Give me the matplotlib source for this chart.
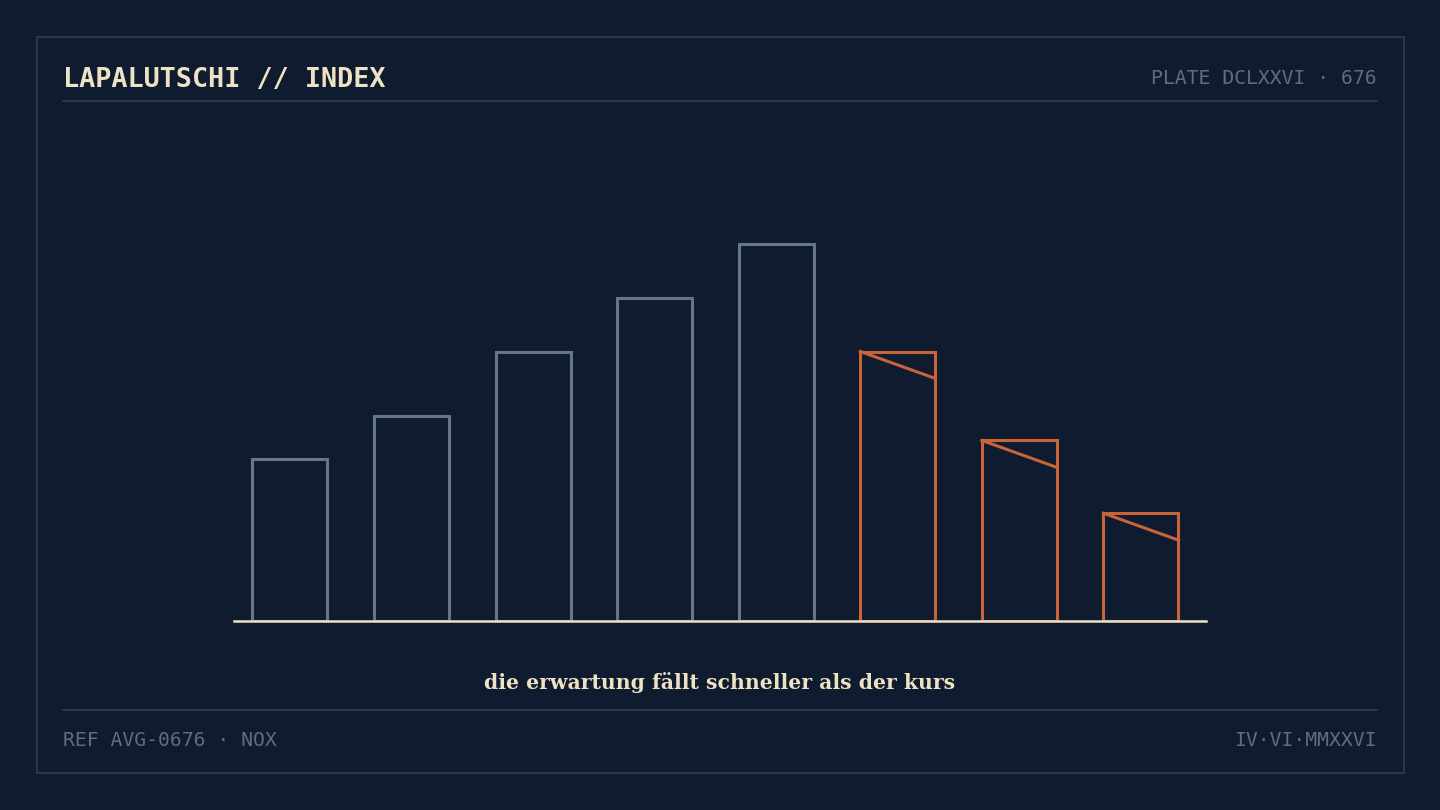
import matplotlib
matplotlib.use("Agg")
import matplotlib.pyplot as plt
from matplotlib.patches import Rectangle

# data
kurs = [3.0, 3.8, 5.0, 6.0, 7.0, 5.0, 3.35, 2.0]
erwartung_drop = [None, None, None, None, None, 0.5, 0.5, 0.5]
is_forecast = [False] * 5 + [True] * 3

title = "LAPALUTSCHI // INDEX"
plate = "PLATE DCLXXVI · 676"
ref = "REF AVG-0676 · NOX"
datum = "IV·VI·MMXXVI"
caption = "die erwartung fällt schneller als der kurs"

BG = "#0f1b2e"
FRAME = "#2c3a50"
GREY = "#66758c"
ORANGE = "#c8643a"
CREAM = "#efe2c4"
MUTED = "#5f6d83"

W, H = 1440, 810
fig = plt.figure(figsize=(14.4, 8.1), dpi=100, facecolor=BG)

# frame and rules in pixel space
deco = fig.add_axes([0, 0, 1, 1])
deco.set_xlim(0, W)
deco.set_ylim(H, 0)
deco.axis("off")
deco.add_patch(Rectangle((37, 37), 1367, 736, fill=False, ec=FRAME, lw=1.3))
deco.plot([63, 1377], [101, 101], color=FRAME, lw=1.3)
deco.plot([63, 1377], [710, 710], color=FRAME, lw=1.3)

mono = ["DejaVu Sans Mono"]
deco.text(63, 77, title, color=CREAM, fontsize=19.3, fontweight="bold",
          family=mono, va="center_baseline", ha="left")
deco.text(1377, 77, plate, color=MUTED, fontsize=14.2, family=mono,
          va="center_baseline", ha="right")
deco.text(63, 738, ref, color=MUTED, fontsize=14.2, family=mono,
          va="center_baseline", ha="left")
deco.text(1377, 738, datum, color=MUTED, fontsize=14.2, family=mono,
          va="center_baseline", ha="right")
deco.text(720, 683, caption, color=CREAM, fontsize=14.7, fontweight="bold",
          family=["DejaVu Serif"], va="center", ha="center")

# chart
x0, x1, yb, yt = 234, 1206, 621, 130
ax = fig.add_axes([x0 / W, 1 - yb / H, (x1 - x0) / W, (yb - yt) / H])
ax.set_facecolor("none")
ax.axis("off")
ax.set_xlim(-0.46, 7.535)
ax.set_ylim(0, (yb - yt) / 53.9)

bw = 0.617
for i, (v, fc) in enumerate(zip(kurs, is_forecast)):
    col = ORANGE if fc else GREY
    ax.bar(i, v, width=bw, facecolor="none", edgecolor=col, linewidth=2.2,
           zorder=2)
    if fc:
        d = erwartung_drop[i]
        ax.plot([i - bw / 2, i + bw / 2], [v, v - d], color=ORANGE, lw=2.2,
                zorder=3)

ax.axhline(0, color=CREAM, lw=1.8, zorder=4, clip_on=False)

fig.savefig("out.png", dpi=100, facecolor=BG)
